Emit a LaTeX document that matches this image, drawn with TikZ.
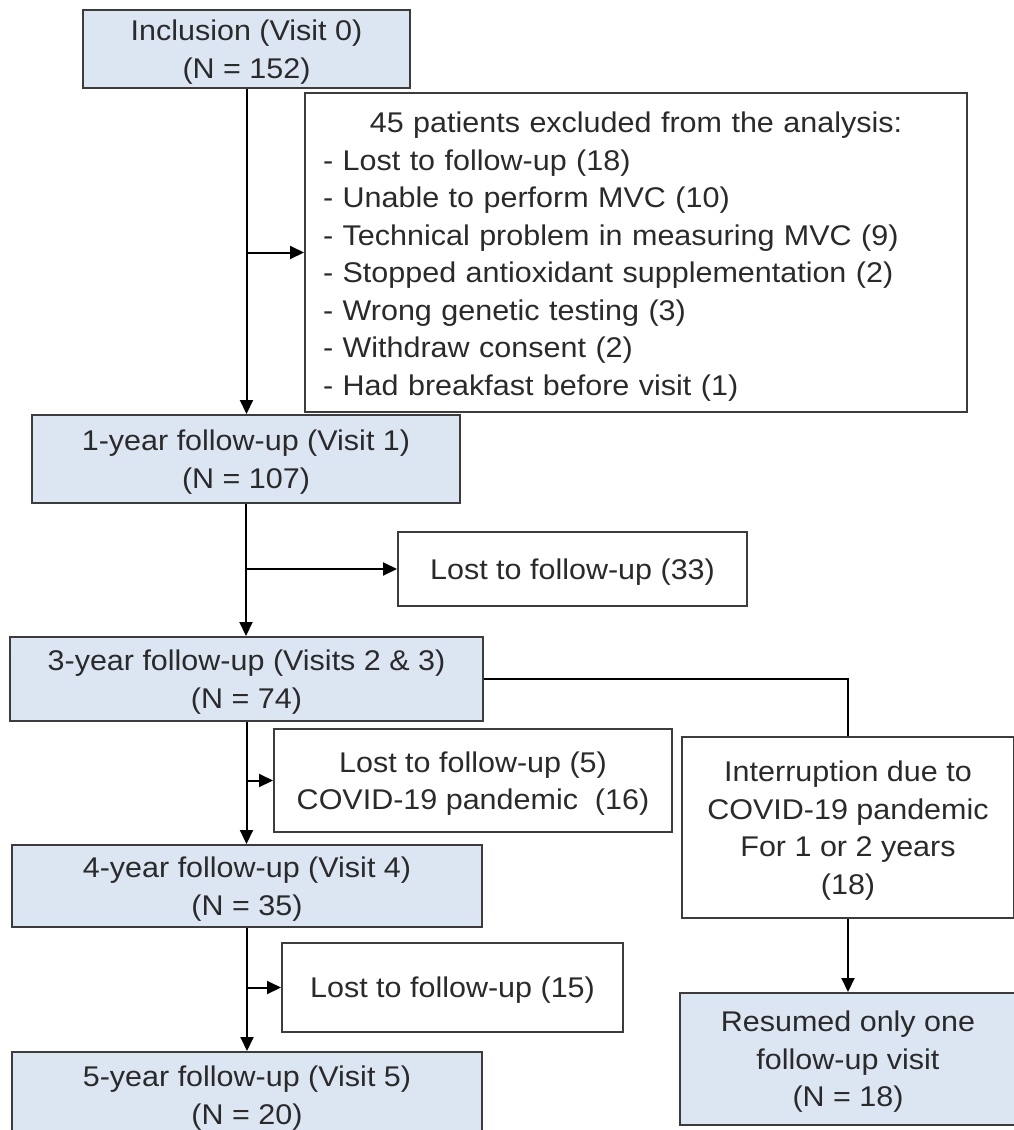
\documentclass[tikz,border=0pt]{standalone}
\usepackage{fontspec}
\setmainfont{Liberation Sans}[FakeStretch=1.07]
\usetikzlibrary{arrows.meta}
\definecolor{boxblue}{HTML}{DCE6F2}
\definecolor{edgegray}{HTML}{3C3C3C}
\definecolor{txtgray}{HTML}{2A2A2A}
\begin{document}
\begin{tikzpicture}[x=1pt,y=-1pt,
  every node/.style={font=\fontsize{28.5}{37.5}\selectfont, text=txtgray},
  frame/.style={draw=edgegray, line width=2pt, inner sep=0pt, align=center, rectangle},
  box/.style={frame, text depth=0pt},
  bluebox/.style={box, fill=boxblue},
  whitebox/.style={box, fill=white},
  conn/.style={line width=2pt, black},
  arr/.style={conn, -{Triangle[length=14pt,width=13pt]}}]
\useasboundingbox (0,0) rectangle (1013,1130);
\fill[white] (0,0) rectangle (1013,1130);

\node[bluebox, minimum width=327, minimum height=78] (inc) at (246.5,49) {Inclusion (Visit 0)\\(N = 152)};
\node[frame, fill=white, minimum width=662, minimum height=319, text width=626pt, align=left] (excl) at (636,252.5)
 {\rule{0pt}{29pt}\makebox[626pt][c]{45 patients excluded from the analysis:}\\
  - Lost to follow-up (18)\\
  - Unable to perform MVC (10)\\
  - Technical problem in measuring MVC (9)\\
  - Stopped antioxidant supplementation (2)\\
  - Wrong genetic testing (3)\\
  - Withdraw consent (2)\\
  - Had breakfast before visit (1)};
\node[bluebox, minimum width=428, minimum height=88] (y1) at (246,459) {1-year follow-up (Visit 1)\\(N = 107)};
\node[whitebox, minimum width=349, minimum height=74] (l33) at (572.5,569) {Lost to follow-up (33)};
\node[bluebox, minimum width=473, minimum height=84] (y3) at (246.5,679) {3-year follow-up (Visits 2 \& 3)\\(N = 74)};
\node[whitebox, minimum width=398, minimum height=103] (l5) at (473,780.5) {Lost to follow-up (5)\\COVID-19 pandemic\ \ (16)};
\node[whitebox, minimum width=332, minimum height=181] (intr) at (848,827.5) {Interruption due to\\COVID-19 pandemic\\For 1 or 2 years\\(18)};
\node[bluebox, minimum width=470, minimum height=82] (y4) at (247,886) {4-year follow-up (Visit 4)\\(N = 35)};
\node[whitebox, minimum width=341, minimum height=89] (l15) at (452.5,987.5) {Lost to follow-up (15)};
\node[bluebox, minimum width=470, minimum height=86] (y5) at (247,1095) {5-year follow-up (Visit 5)\\(N = 20)};
\node[bluebox, minimum width=336, minimum height=132] (res) at (848,1059) {Resumed only one\\follow-up visit\\(N = 18)};

\draw[arr] (inc.south) -- (inc.south |- y1.north);
\draw[arr] (inc.south |- excl.west) -- (excl.west);
\draw[arr] (y1.south) -- (y1.south |- y3.north);
\draw[arr] (y1.south |- l33.west) -- (l33.west);
\draw[arr] (y3.south) -- (y3.south |- y4.north);
\draw[arr] (y3.south |- l5.west) -- (l5.west);
\draw[arr] (y4.south) -- (y4.south |- y5.north);
\draw[arr] (y4.south |- l15.west) -- (l15.west);
\draw[conn] (y3.east) -| (intr.north);
\draw[arr] (intr.south) -- (res.north);
\end{tikzpicture}
\end{document}
